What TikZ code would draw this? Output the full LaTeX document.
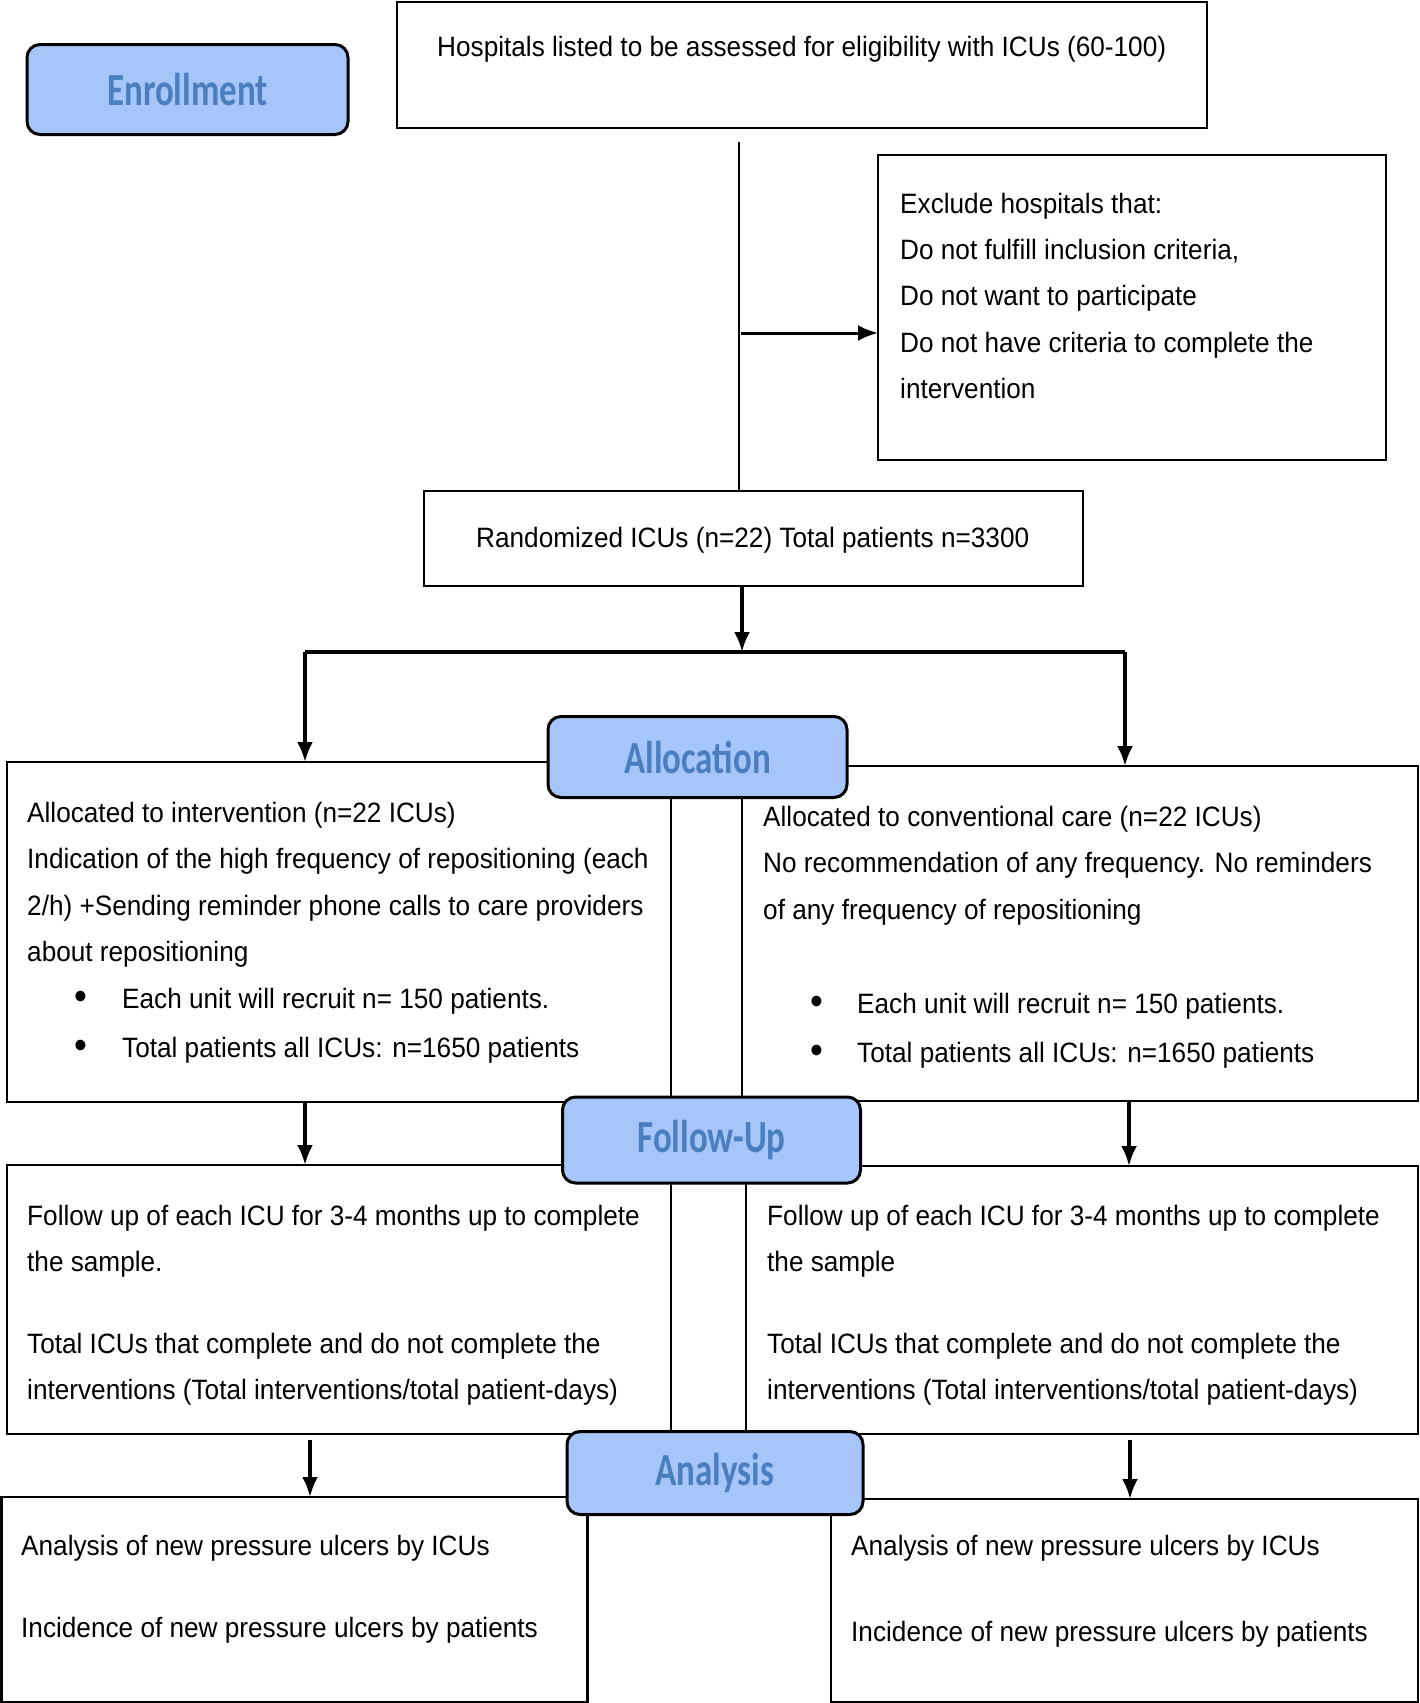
\documentclass[tikz,border=0pt]{standalone}
\usepackage{fontspec}
\setmainfont{Liberation Sans}[FakeStretch=0.935]
\newfontfamily\phasefont{Carlito}[FakeStretch=0.76]
\usetikzlibrary{positioning, arrows.meta}
\definecolor{phasefill}{RGB}{166,198,250}
\definecolor{phasetext}{RGB}{74,126,190}
\newcommand{\bul}{\raisebox{-1pt}{\scalebox{1.4}{•}}}

\begin{document}
\begin{tikzpicture}[x=1pt, y=-1pt,
        >={Latex[length=20pt,width=16pt]},
        every edge/.style={draw=black, line width=3.5pt},
        box/.style={draw=black, line width=2.5pt, anchor=north west, inner sep=0pt, outer sep=0pt},
        phase/.style={draw=black, line width=3pt, rounded corners=13pt, fill=phasefill, text=phasetext,
                font=\phasefont\bfseries\fontsize{46}{46}\selectfont, inner sep=0pt},
        txt/.style={anchor=north west, align=left, inner sep=0pt, font=\fontsize{28}{46.25}\selectfont},
        bullets/.style={txt, font=\fontsize{28}{49}\selectfont},]

        \useasboundingbox (0,0) rectangle (1420,1703);

        % boxes
        \node[box, minimum width=810pt, minimum height=126pt] (b_hosp) at (397,2) {};
        \node[box, minimum width=508pt, minimum height=305pt] (b_excl) at (878,155) {};
        \node[box, minimum width=659pt, minimum height=95pt] (b_rand) at (424,491) {};
        \node[box, minimum width=664pt, minimum height=340pt] (b_int) at (7,762) {};
        \node[box, minimum width=676pt, minimum height=335pt] (b_conv) at (742,766) {};
        \node[box, minimum width=664pt, minimum height=269pt] (b_fu_int) at (7,1165) {};
        \node[box, minimum width=672pt, minimum height=268pt] (b_fu_conv) at (746,1166) {};
        \node[box, minimum width=586pt, minimum height=205pt] (b_an_int) at (1.5,1497) {};
        \node[box, minimum width=587pt, minimum height=203pt] (b_an_conv) at (831,1499) {};

        % texts
        \node[txt, anchor=west] (t_hosp) at (437,49) {Hospitals listed to be assessed for eligibility with ICUs (60-100)};
        \node[txt] (t_excl) at (900,193) {Exclude hospitals that:\\ Do not fulfill inclusion criteria,\\ Do not want to participate\\ Do not have criteria to complete the\\ intervention};
        \node[txt, anchor=west] (t_rand) at (476,540) {Randomized ICUs (n=22) Total patients n=3300};
        \node[txt] (t_int) at (27,802) {Allocated to intervention (n=22 ICUs)\\ Indication of the high frequency of repositioning (each\\ 2/h) +Sending reminder phone calls to care providers\\ about repositioning};
        \node[bullets] (t_int_b) at (74,988) {\makebox[48pt][l]{\bul}Each unit will recruit n= 150 patients.\\ \makebox[48pt][l]{\bul}Total patients all ICUs: n=1650 patients};
        \node[txt] (t_conv) at (763,806) {Allocated to conventional care (n=22 ICUs)\\ No recommendation of any frequency. No reminders\\ of any frequency of repositioning};
        \node[bullets] (t_conv_b) at (810,993) {\makebox[47pt][l]{\bul}Each unit will recruit n= 150 patients.\\ \makebox[47pt][l]{\bul}Total patients all ICUs: n=1650 patients};
        \node[txt] (t_fu_int) at (27,1205) {Follow up of each ICU for 3-4 months up to complete\\ the sample.\\[35pt] Total ICUs that complete and do not complete the\\ interventions (Total interventions/total patient-days)};
        \node[txt] (t_fu_conv) at (767,1205) {Follow up of each ICU for 3-4 months up to complete\\ the sample\\[35pt] Total ICUs that complete and do not complete the\\ interventions (Total interventions/total patient-days)};
        \node[txt] (t_an_int) at (21,1535) {Analysis of new pressure ulcers by ICUs\\[36pt] Incidence of new pressure ulcers by patients};
        \node[txt] (t_an_conv) at (851,1535) {Analysis of new pressure ulcers by ICUs\\[40pt] Incidence of new pressure ulcers by patients};

        % phase labels
        \node[phase, minimum width=321pt, minimum height=90pt] (p_enrol) at (187.5,89.5) {Enrollment};
        \node[phase, minimum width=299pt, minimum height=81pt] (p_alloc) at (697.5,757) {Allocation};
        \node[phase, minimum width=298pt, minimum height=86pt] (p_follow) at (711.5,1140) {Follow-Up};
        \node[phase, minimum width=296pt, minimum height=83pt] (p_anal) at (715,1473) {Analysis};

        % connectors
        \coordinate (c_top) at (739,142);
        \coordinate (c_excl) at (741,333);
        \coordinate (c_split) at (742,652);
        \coordinate (c_l) at (305,652);
        \coordinate (c_r) at (1125,652);

        \path (c_top) edge[line width=2.5pt] (c_top |- b_rand.north);
        \path[->] (c_excl) edge[line width=3pt] (c_excl -| b_excl.west);
        \path[->] (c_split |- b_rand.south) edge (c_split);
        \path (c_l) edge (c_r);
        \path[->] (c_l) edge (c_l |- b_int.north);
        \path[->] (c_r) edge (c_r |- b_conv.north);

        \path[->] ([xshift=298pt]b_int.south west) edge ([xshift=298pt]b_fu_int.north west);
        \path[->] ([xshift=387pt]b_conv.south west) edge ([xshift=383pt]b_fu_conv.north west);
        \path[->] ([xshift=303pt, yshift=-6pt]b_fu_int.south west) edge ([xshift=308.5pt]b_an_int.north west);
        \path[->] ([xshift=384pt, yshift=-6pt]b_fu_conv.south west) edge ([xshift=299pt]b_an_conv.north west);

\end{tikzpicture}
\end{document}
